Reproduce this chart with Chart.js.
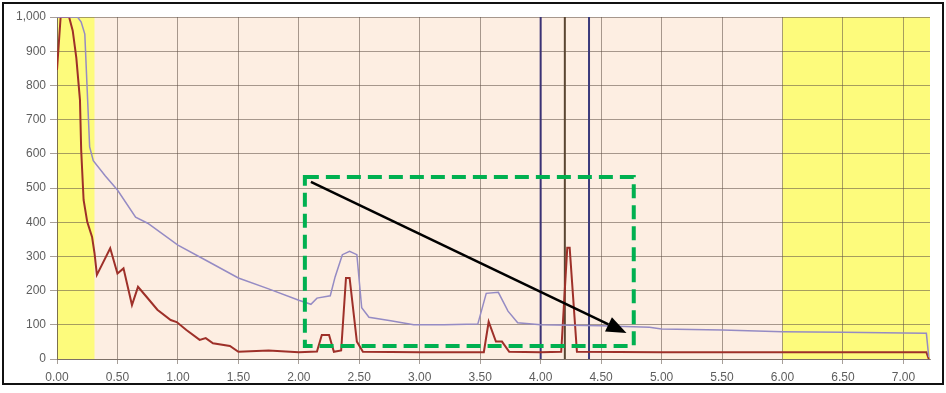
<!DOCTYPE html>
<html>
<head>
<meta charset="utf-8">
<script src="https://cdn.jsdelivr.net/npm/chart.js@4/dist/chart.umd.min.js"></script>
<style>
  html, body { margin: 0; padding: 0; background: #fff; }
  #wrap { width: 946px; height: 393px; }
</style>
</head>
<body>
<div id="wrap"><canvas id="chart-area" width="946" height="393"></canvas></div>
<script>
// upper trace (lavender)
let upperX = [0, 0.17, 0.20, 0.23, 0.27, 0.30, 0.40, 0.50, 0.65, 0.75, 1.00, 1.25, 1.50, 1.75, 2.00, 2.10, 2.15, 2.26, 2.30, 2.36, 2.42, 2.48, 2.52, 2.58, 2.76, 2.95, 3.20, 3.48, 3.55, 3.65, 3.73, 3.81, 4.00, 4.50, 4.90, 5.00, 5.50, 6.00, 6.50, 7.00, 7.19, 7.21];
let upperY = [1000, 1000, 985, 950, 620, 580, 535, 494, 415, 397, 333, 285, 237, 205, 172, 160, 178, 185, 240, 305, 315, 305, 150, 122, 112, 100, 100, 102, 192, 195, 140, 106, 100, 97, 93, 88, 85, 80, 78, 76, 75, 5];

// lower trace (dark red)
let lowerX = [0, 0.03, 0.10, 0.13, 0.16, 0.19, 0.20, 0.22, 0.25, 0.29, 0.31, 0.33, 0.44, 0.50, 0.55, 0.62, 0.67, 0.74, 0.83, 0.94, 0.99, 1.07, 1.18, 1.23, 1.29, 1.43, 1.50, 1.75, 2.00, 2.15, 2.19, 2.25, 2.29, 2.35, 2.39, 2.42, 2.48, 2.53, 3.00, 3.53, 3.57, 3.63, 3.68, 3.74, 4.00, 4.17, 4.22, 4.24, 4.30, 5.00, 6.00, 7.00, 7.19, 7.21];
let lowerY = [845, 1000, 1000, 960, 880, 757, 611, 465, 401, 357, 310, 246, 324, 250, 265, 158, 211, 182, 144, 114, 108, 85, 56, 61, 46, 38, 21, 25, 20, 22, 70, 70, 21, 25, 237, 237, 51, 21, 20, 20, 109, 51, 51, 21, 20, 21, 325, 325, 21, 20, 20, 20, 20, 0];

// marker lines
let markerX = [4.00, 4.20, 4.40];
let markerColors = ['#3b3275', '#5a4632', '#3b3a7a'];

// shaded bands [from, to]
let bandStart = [0, 6.00];
let bandEnd = [0.31, 7.22];

// highlight box and arrow (data coords)
let boxX = [2.05, 4.77];
let boxY = [38, 532];
let arrowX = [2.10, 4.71];
let arrowY = [518, 76];

let xTicks = [0, 0.5, 1, 1.5, 2, 2.5, 3, 3.5, 4, 4.5, 5, 5.5, 6, 6.5, 7];

function pts(xs, ys) {
  return xs.map(function (x, i) { return { x: x, y: ys[i] }; });
}

let datasets = [
  {
    data: pts(upperX, upperY),
    borderColor: '#958bc4',
    borderWidth: 1.5,
    pointRadius: 0,
    tension: 0
  },
  {
    data: pts(lowerX, lowerY),
    borderColor: '#9e3029',
    borderWidth: 2,
    pointRadius: 0,
    tension: 0
  }
];
markerX.forEach(function (mx, i) {
  datasets.push({
    data: [{ x: mx, y: 0 }, { x: mx, y: 1000 }],
    borderColor: markerColors[i],
    borderWidth: 2,
    pointRadius: 0
  });
});

const backdrop = {
  id: 'backdrop',
  beforeDraw(chart) {
    const c = chart.ctx, a = chart.chartArea;
    const xs = chart.scales.x;
    c.save();
    c.fillStyle = '#fff';
    c.fillRect(0, 0, chart.width, chart.height);
    c.fillStyle = '#fdeee2';
    c.fillRect(a.left, a.top, a.right - a.left, a.bottom - a.top);
    c.fillStyle = '#fdfb7c';
    for (let i = 0; i < bandStart.length; i++) {
      const x1 = xs.getPixelForValue(bandStart[i]);
      const x2 = xs.getPixelForValue(bandEnd[i]);
      c.fillRect(x1, a.top, x2 - x1, a.bottom - a.top);
    }
    c.restore();
  },
  afterDraw(chart) {
    const c = chart.ctx;
    const xs = chart.scales.x, ys = chart.scales.y;
    c.save();
    // dashed green box
    const bx1 = xs.getPixelForValue(boxX[0]), bx2 = xs.getPixelForValue(boxX[1]);
    const by1 = ys.getPixelForValue(boxY[1]), by2 = ys.getPixelForValue(boxY[0]);
    c.strokeStyle = '#00b050';
    c.lineWidth = 4;
    c.setLineDash([14, 7]);
    c.strokeRect(bx1, by1, bx2 - bx1, by2 - by1);
    c.setLineDash([]);
    // arrow
    const ax1 = xs.getPixelForValue(arrowX[0]), ay1 = ys.getPixelForValue(arrowY[0]);
    const ax2 = xs.getPixelForValue(arrowX[1]), ay2 = ys.getPixelForValue(arrowY[1]);
    const ang = Math.atan2(ay2 - ay1, ax2 - ax1);
    const headLen = 20, headW = 8;
    const baseX = ax2 - headLen * Math.cos(ang), baseY = ay2 - headLen * Math.sin(ang);
    c.strokeStyle = '#000';
    c.lineWidth = 2.5;
    c.beginPath();
    c.moveTo(ax1, ay1);
    c.lineTo(baseX, baseY);
    c.stroke();
    c.fillStyle = '#000';
    c.beginPath();
    c.moveTo(ax2, ay2);
    c.lineTo(baseX + headW * Math.sin(ang), baseY - headW * Math.cos(ang));
    c.lineTo(baseX - headW * Math.sin(ang), baseY + headW * Math.cos(ang));
    c.closePath();
    c.fill();
    // outer frame
    c.strokeStyle = '#111';
    c.lineWidth = 2;
    c.strokeRect(3, 3, chart.width - 6, 381);
    c.restore();
  }
};

var ctx = document.getElementById('chart-area').getContext('2d');
var chart = new Chart(ctx, {
  type: 'line',
  data: { datasets: datasets },
  options: {
    responsive: false,
    animation: false,
    events: [],
    layout: { padding: { left: 3, top: 17, right: 16, bottom: 0 } },
    plugins: { legend: { display: false }, tooltip: { enabled: false } },
    scales: {
      x: {
        type: 'linear',
        min: 0,
        max: 7.22,
        afterFit(scale) { scale.height = 34; },
        afterBuildTicks(scale) { scale.ticks = xTicks.map(function (v) { return { value: v }; }); },
        ticks: {
          includeBounds: false,
          color: '#5e5e5e',
          font: { family: 'Liberation Sans, Arial, sans-serif', size: 12 },
          padding: 6,
          maxRotation: 0,
          callback: function (v) { return Number(v).toFixed(2); }
        },
        grid: { color: 'rgba(95,80,70,0.55)', lineWidth: 1, tickLength: 5 },
        border: { color: 'rgba(95,80,70,0.6)' }
      },
      y: {
        min: 0,
        max: 1000,
        afterFit(scale) { scale.width = 54; },
        ticks: {
          stepSize: 100,
          color: '#5e5e5e',
          font: { family: 'Liberation Sans, Arial, sans-serif', size: 12 },
          padding: 4,
          callback: function (v) { return Number(v).toLocaleString('en-US'); }
        },
        grid: { color: 'rgba(95,80,70,0.55)', lineWidth: 1, tickLength: 7 },
        border: { color: 'rgba(95,80,70,0.6)' }
      }
    }
  },
  plugins: [backdrop]
});
</script>
</body>
</html>
